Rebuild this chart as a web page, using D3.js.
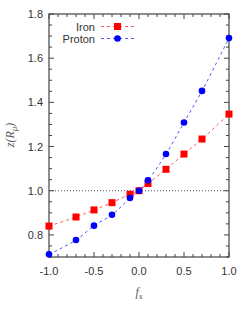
<!DOCTYPE html>
<html><head><meta charset="utf-8">
<script src="https://cdn.jsdelivr.net/npm/d3@7"></script>
<style>body{margin:0;background:#fff}svg{display:block;font-family:"Liberation Sans",Arial,sans-serif}</style>
</head><body>
<script>
const fs = [-1.0, -0.7, -0.5, -0.3, -0.1, 0.0, 0.1, 0.3, 0.5, 0.7, 1.0];
const iron = [0.840, 0.881, 0.913, 0.946, 0.984, 1.000, 1.033, 1.097, 1.166, 1.234, 1.347];
const proton = [0.712, 0.777, 0.842, 0.891, 0.967, 1.000, 1.047, 1.166, 1.309, 1.452, 1.691];
const xTicks = [-1.0, -0.5, 0.0, 0.5, 1.0];
const yTicks = [0.8, 1.0, 1.2, 1.4, 1.6, 1.8];

const W = 249, H = 312;
const m = {l: 49, r: 20, t: 14, b: 55};
const svg = d3.select("body").append("svg").attr("width", W).attr("height", H);
const x = d3.scaleLinear().domain([-1, 1]).range([m.l, W - m.r]);
const y = d3.scaleLinear().domain([0.7, 1.8]).range([H - m.b, m.t]);
const axisCol = "#444";

// reference line at 1.0
svg.append("line").attr("x1", x(-1)).attr("x2", x(1)).attr("y1", y(1)).attr("y2", y(1))
  .attr("stroke", "#555").attr("stroke-width", 1).attr("stroke-dasharray", "1,2");

// ticks
const g = svg.append("g");
const xMinor = d3.range(-10, 11).map(d => d / 10);
const yMinor = d3.range(14, 37).map(d => d * 0.05);
xMinor.forEach(v => {
  const maj = xTicks.some(t => Math.abs(t - v) < 1e-9);
  const L = maj ? 5 : 3;
  g.append("line").attr("x1", x(v)).attr("x2", x(v)).attr("y1", y(0.7)).attr("y2", y(0.7) - L).attr("stroke", axisCol);
  g.append("line").attr("x1", x(v)).attr("x2", x(v)).attr("y1", y(1.8)).attr("y2", y(1.8) + L).attr("stroke", axisCol);
});
yMinor.forEach(v => {
  const maj = yTicks.some(t => Math.abs(t - v) < 1e-9);
  const L = maj ? 5 : 3;
  g.append("line").attr("x1", x(-1)).attr("x2", x(-1) + L).attr("y1", y(v)).attr("y2", y(v)).attr("stroke", axisCol);
  g.append("line").attr("x1", x(1)).attr("x2", x(1) - L).attr("y1", y(v)).attr("y2", y(v)).attr("stroke", axisCol);
});
svg.append("rect").attr("x", x(-1)).attr("y", y(1.8)).attr("width", x(1) - x(-1)).attr("height", y(0.7) - y(1.8))
  .attr("fill", "none").attr("stroke", axisCol).attr("stroke-width", 1.2);

// tick labels
svg.selectAll(".xt").data(xTicks).join("text").attr("x", d => x(d)).attr("y", y(0.7) + 18)
  .attr("text-anchor", "middle").attr("font-size", 11).attr("fill", "#333").text(d => d.toFixed(1));
svg.selectAll(".yt").data(yTicks).join("text").attr("x", x(-1) - 6).attr("y", d => y(d) + 4)
  .attr("text-anchor", "end").attr("font-size", 11).attr("fill", "#333").text(d => d.toFixed(1));

// axis labels
svg.append("text").attr("x", x(0)).attr("y", 296).attr("text-anchor", "middle")
  .attr("font-family", "Liberation Serif, serif").attr("font-style", "italic").attr("font-size", 12).attr("fill", "#555")
  .html('f<tspan dy="3" font-size="9">s</tspan>');
svg.append("text").attr("transform", "translate(14,135) rotate(-90)").attr("text-anchor", "middle")
  .attr("font-family", "Liberation Serif, serif").attr("font-style", "italic").attr("font-size", 12).attr("fill", "#555")
  .html('z(R<tspan dy="3" font-size="9">μ</tspan><tspan dy="-3">)</tspan>');

// curves
const line = d3.line().x(d => x(d[0])).y(d => y(d[1])).curve(d3.curveCatmullRom);
const series = [
  {name: "Iron", vals: iron, col: "#ff0000", lc: "#f44", shape: "sq"},
  {name: "Proton", vals: proton, col: "#0000ff", lc: "#44f", shape: "ci"}
];
series.forEach(s => {
  const pts = fs.map((f, i) => [f, s.vals[i]]);
  svg.append("path").attr("d", line(pts)).attr("fill", "none").attr("stroke", s.lc)
    .attr("stroke-width", 0.9).attr("stroke-dasharray", "3,3");
  pts.forEach(p => {
    if (s.shape === "sq") svg.append("rect").attr("x", x(p[0]) - 3.5).attr("y", y(p[1]) - 3.5).attr("width", 7).attr("height", 7).attr("fill", s.col);
    else svg.append("circle").attr("cx", x(p[0])).attr("cy", y(p[1])).attr("r", 3.3).attr("fill", s.col);
  });
});

// legend
series.forEach((s, i) => {
  const ly = 26.5 + i * 12;
  svg.append("text").attr("x", 95).attr("y", ly + 4).attr("text-anchor", "end").attr("font-size", 11).attr("fill", "#333").text(s.name);
  svg.append("line").attr("x1", 101).attr("x2", 134).attr("y1", ly).attr("y2", ly).attr("stroke", s.lc).attr("stroke-width", 0.9).attr("stroke-dasharray", "3,3");
  if (s.shape === "sq") svg.append("rect").attr("x", 117.5 - 3.5).attr("y", ly - 3.5).attr("width", 7).attr("height", 7).attr("fill", s.col);
  else svg.append("circle").attr("cx", 117.5).attr("cy", ly).attr("r", 3.3).attr("fill", s.col);
});
</script>
</body></html>
